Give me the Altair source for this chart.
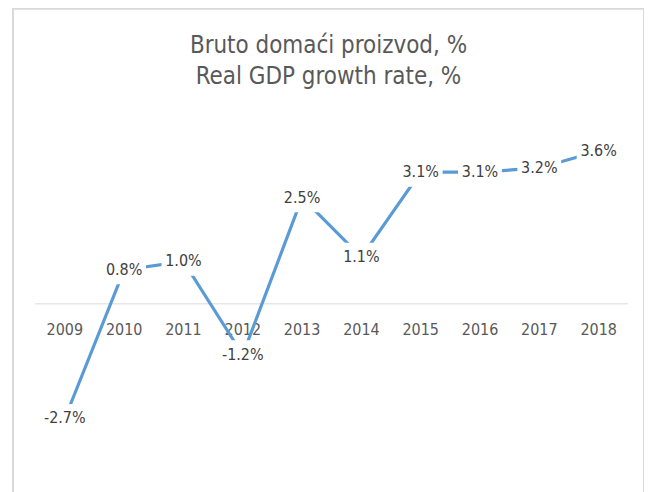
import altair as alt
import pandas as pd

years = [2009, 2010, 2011, 2012, 2013, 2014, 2015, 2016, 2017, 2018]
growth = [-2.7, 0.8, 1.0, -1.2, 2.5, 1.1, 3.1, 3.1, 3.2, 3.6]
labels = [f"{v:.1f}%" for v in growth]
title_lines = ["Bruto domaći proizvod, %", "Real GDP growth rate, %"]

df = pd.DataFrame({"year": years, "growth": growth, "label": labels})
zero = pd.DataFrame({"start": [min(years) - 0.5], "end": [max(years) + 0.5], "y": [0]})

FONT = "Liberation Sans Narrow, DejaVu Sans Condensed, Lato, sans-serif"
x_scale = alt.Scale(domain=[min(years) - 0.874, max(years) + 0.765], nice=False, zero=False)
y_scale = alt.Scale(domain=[-4.554, 6.948], nice=False, zero=False)

x = alt.X("year:Q", scale=x_scale, axis=None)
y = alt.Y("growth:Q", scale=y_scale, axis=None)

base = alt.Chart(df)

zero_rule = alt.Chart(zero).mark_rule(color="#d9d9d9", strokeWidth=1).encode(
    x=alt.X("start:Q", scale=x_scale, axis=None),
    x2="end:Q",
    y=alt.Y("y:Q", scale=y_scale, axis=None),
)

year_text = base.transform_calculate(zero="0").mark_text(
    font=FONT, fontSize=16, color="#595959", dy=26, baseline="middle"
).encode(x=x, y=alt.Y("zero:Q", scale=y_scale, axis=None), text=alt.Text("year:N"))

line = base.mark_line(color="#5B9BD5", strokeWidth=3.2).encode(x=x, y=y)

boxes = base.mark_point(
    shape="M-1,-0.66H1V0.66H-1Z", size=1936, filled=True, color="white", opacity=1, strokeWidth=0
).encode(x=x, y=y)

value_text = base.mark_text(
    font=FONT, fontSize=16, color="#404040", baseline="middle"
).encode(x=x, y=y, text="label:N")

chart = alt.layer(zero_rule, year_text, line, boxes, value_text).properties(
    width=633,
    height=490,
    autosize="none",
    padding={"left": 5, "top": 0, "right": 0, "bottom": 0},
    title=alt.TitleParams(
        text=title_lines,
        font=FONT,
        fontSize=24,
        fontWeight="normal",
        color="#595959",
        lineHeight=31,
        anchor="middle",
        offset=-80,
    ),
).configure_view(stroke="#d9d9d9", strokeWidth=2)

chart.save("out.html", embed_options={"renderer": "svg", "actions": False})
